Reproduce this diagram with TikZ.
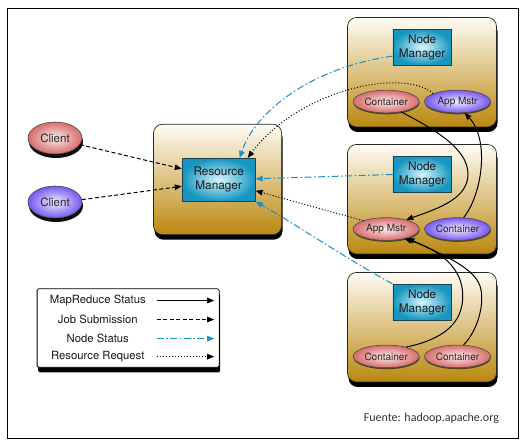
\documentclass[tikz,border=0pt]{standalone}
\usepackage{fontspec}
\setmainfont{TeX Gyre Heros}
\newfontfamily\fuentefont{Carlito}
\usetikzlibrary{arrows.meta,shapes.geometric,shadows}
\definecolor{boxtop}{RGB}{255,252,244}
\definecolor{boxbot}{RGB}{186,136,16}
\definecolor{mgrin}{RGB}{215,246,253}
\definecolor{mgrout}{RGB}{22,150,192}
\definecolor{mgrline}{RGB}{30,65,80}
\definecolor{redin}{RGB}{253,235,235}
\definecolor{redout}{RGB}{214,108,108}
\definecolor{purin}{RGB}{242,238,255}
\definecolor{purout}{RGB}{118,88,240}
\definecolor{nsblue}{RGB}{28,142,192}
\begin{document}
\begin{tikzpicture}[x=1pt,y=-1pt,
  hostbox/.style={draw=black!85, line width=0.7pt, rounded corners=9pt,
    top color=boxtop, bottom color=boxbot, inner sep=0pt,
    minimum width=149pt, minimum height=109.5pt,
    drop shadow={shadow xshift=1pt, shadow yshift=-5pt, fill=black, opacity=1}},
  mgrbox/.style={draw=mgrline, line width=0.7pt, inner color=mgrin, outer color=mgrout,
    inner sep=0pt, minimum width=58.4pt, minimum height=36pt, align=center,
    font=\fontsize{11.8}{13.8}\selectfont, text=black!90},
  ell/.style={ellipse, draw=black!70, line width=0.6pt, minimum width=66pt,
    minimum height=22.7pt, inner sep=0pt, font=\fontsize{10}{12}\selectfont, text=black!85,
    drop shadow={shadow xshift=0.4pt, shadow yshift=-1.5pt, fill=black, opacity=0.55}},
  redell/.style={ell, inner color=redin, outer color=redout},
  purell/.style={ell, inner color=purin, outer color=purout},
  client/.style={minimum width=54pt, minimum height=32pt, font=\fontsize{11.5}{13.5}\selectfont,
    drop shadow={shadow xshift=1pt, shadow yshift=-4pt, fill=black, opacity=0.95}},
  legbox/.style={draw=black, line width=0.8pt, fill=white, rounded corners=1.5pt,
    minimum width=182.1pt, minimum height=78.5pt, inner sep=0pt,
    drop shadow={shadow xshift=1pt, shadow yshift=-5pt, fill=black, opacity=1}},
  legtext/.style={font=\fontsize{11.3}{13}\selectfont, text=black!90, inner sep=0pt},
  conn/.style={line width=1pt},
  mr/.style={conn, -{Triangle[length=7pt,width=5.5pt]}},
  job/.style={mr, dash pattern=on 4pt off 2.5pt},
  rreq/.style={mr, dash pattern=on 1pt off 2pt},
  nstat/.style={conn, draw=nsblue, dash pattern=on 7pt off 2.5pt on 1.5pt off 2.5pt,
    -{Triangle[length=7pt,width=5.5pt,fill=nsblue]}}
]
\useasboundingbox (0,0) rectangle (528,445);
\draw[line width=1pt] (7.4,8.3) rectangle (518.3,438.3);

% host boxes
\node[hostbox] (nb1) at (422,72.2) {};
\node[hostbox] (nb2) at (422,199.2) {};
\node[hostbox] (nb3) at (422,327.2) {};
\node[hostbox, minimum width=128.1pt, minimum height=110.5pt] (rmb) at (217.55,179.45) {};

% managers
\node[mgrbox, minimum width=73.2pt, minimum height=43pt] (rmi) at (218.7,179.8) {Resource\\Manager};
\node[mgrbox] (nm1) at (422.1,47.1) {Node\\Manager};
\node[mgrbox] (nm2) at (422.1,174.5) {Node\\Manager};
\node[mgrbox] (nm3) at (422.1,302.2) {Node\\Manager};

% containers / app masters
\node[redell] (ct1) at (386.2,101.5) {Container};
\node[purell] (am1) at (457.5,101.5) {App Mstr};
\node[redell] (am2) at (386.2,229) {App Mstr};
\node[purell] (ct2) at (457.5,229) {Container};
\node[redell] (ct3l) at (386.2,356.4) {Container};
\node[redell] (ct3r) at (457.5,356.4) {Container};

% clients
\node[redell, client] (cl1) at (55,138) {Client};
\node[purell, client] (cl2) at (55,202) {Client};

% job submission
\draw[job] (cl1.-15) -- ([yshift=11pt]rmi.west);
\draw[job] (cl2.5) -- ([yshift=-6.5pt]rmi.west);

% node status
\draw[nstat] ([yshift=-9pt]nm1.west) .. controls (310,68) and (255,112) .. ([xshift=21pt]rmi.north);
\draw[nstat] (nm2.west) -- ([yshift=1pt]rmi.east);
\draw[nstat] (nm3.north west) .. controls (350,261) and (292,222) .. (rmi.south east);

% resource request
\draw[rreq] (am1.162) .. controls (405,68) and (300,88) .. ([xshift=29pt]rmi.north);
\draw[rreq] (am2.160) -- ([yshift=-11pt]rmi.east);

% mapreduce status
\draw[mr] (ct1.-35) .. controls (432,128) and (468,148) .. (468,174)
  .. controls (468,198) and (440,208) .. (am2.25);
\draw[mr] (ct2.62) .. controls (482,195) and (490,140) .. (am1.-58);
\draw[mr] (ct3l.25) .. controls (440,340) and (464,325) .. (462.7,294)
  .. controls (462,268) and (440,250) .. (am2.-28);
\draw[mr] (ct3r.62) .. controls (478,330) and (484,305) .. (481,290)
  .. controls (478,268) and (440,254) .. (am2.-23);

% legend
\node[legbox] (leg) at (128.15,328.05) {};
\node[legtext] (t1) at (97.8,300.5) {MapReduce Status};
\node[legtext] (t2) at (97.8,319.5) {Job Submission};
\node[legtext] (t3) at (97.8,338.6) {Node Status};
\node[legtext] (t4) at (97.8,356.6) {Resource Request};
\coordinate (a1) at (156.8,300.5); \coordinate (b1) at (214.2,300.5);
\coordinate (a2) at (156.8,319.5); \coordinate (b2) at (214.2,319.5);
\coordinate (a3) at (156.8,338.6); \coordinate (b3) at (214.2,338.6);
\coordinate (a4) at (156.8,356.6); \coordinate (b4) at (214.2,356.6);
\draw[mr] (a1) -- (b1);
\draw[job] (a2) -- (b2);
\draw[nstat] (a3) -- (b3);
\draw[rreq] (a4) -- (b4);

% source
\node[anchor=base west, inner sep=0pt, font=\fuentefont\fontsize{12}{14}\selectfont, text=black!80] (src) at (363.6,421.4) {Fuente: hadoop.apache.org};
\end{tikzpicture}
\end{document}
